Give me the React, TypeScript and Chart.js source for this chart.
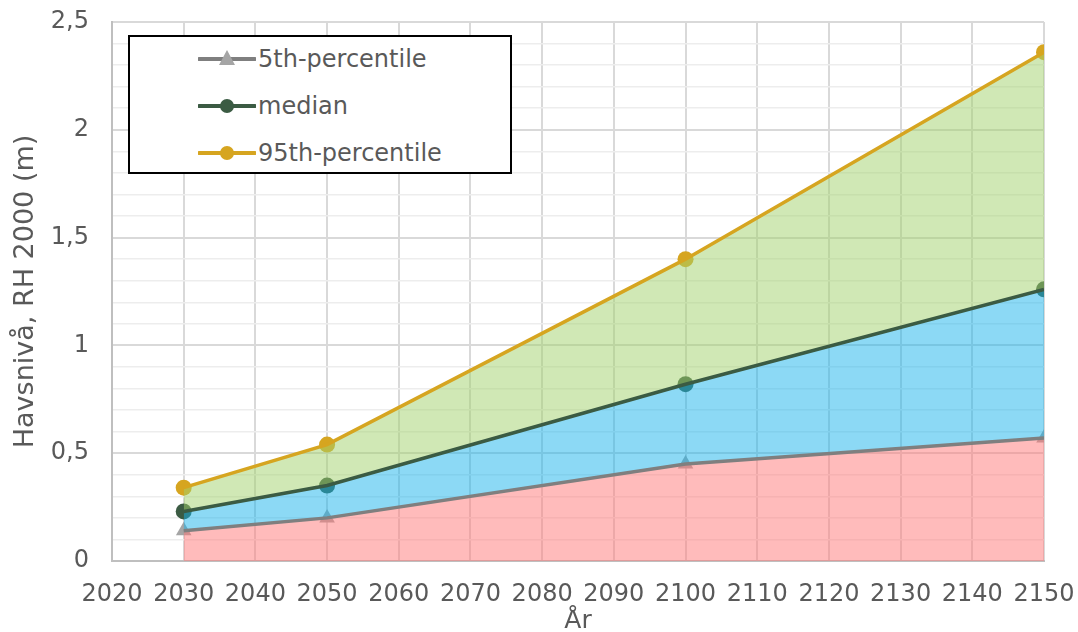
import React, { useEffect, useRef } from "react";
import { Chart, registerables } from "chart.js";

Chart.register(...registerables);

const years = [2030, 2050, 2100, 2150];
const p5 = [0.14, 0.2, 0.45, 0.57];
const median = [0.23, 0.35, 0.82, 1.26];
const p95 = [0.34, 0.54, 1.4, 2.36];
const seriesNames = ["5th-percentile", "median", "95th-percentile"];
const xTitle = "År";
const yTitle = "Havsnivå, RH 2000 (m)";

const FONT = "'DejaVu Sans', Verdana, sans-serif";
const TEXT = "#595959";
const C5 = "#7F7F7F";
const C5M = "#A5A5A5";
const CMED = "#3B5B43";
const C95 = "#D6A520";

const pts = (vals: number[]) => years.map((x, i) => ({ x, y: vals[i] }));

export default function App() {
  const ref = useRef<HTMLCanvasElement | null>(null);
  useEffect(() => {
    if (!ref.current) return;
    const area = (vals: number[], color: string, fill: any) => ({
      data: pts(vals),
      backgroundColor: color,
      borderWidth: 0,
      pointRadius: 0,
      fill,
      order: 2,
      tension: 0,
    });
    const markers = (vals: number[], color: string, style: any, r: number) => ({
      data: pts(vals),
      showLine: false,
      pointStyle: style,
      pointRadius: r,
      pointBackgroundColor: color,
      pointBorderColor: color,
      pointBorderWidth: 0,
      fill: false,
      order: 3,
    });
    const line = (vals: number[], color: string) => ({
      data: pts(vals),
      borderColor: color,
      borderWidth: 3.5,
      pointRadius: 0,
      fill: false,
      order: 1,
      tension: 0,
    });
    const chart = new Chart(ref.current, {
      type: "line",
      data: {
        datasets: [
          area(p5, "rgba(255,119,119,0.5)", "origin"),
          area(median, "rgba(25,179,235,0.5)", "-1"),
          area(p95, "rgba(161,209,107,0.5)", "-1"),
          markers(p5, C5M, "triangle", 9),
          markers(median, CMED, "circle", 8),
          markers(p95, C95, "circle", 8),
          line(p5, C5),
          line(median, CMED),
          line(p95, C95),
        ] as any,
      },
      options: {
        animation: false,
        responsive: false,
        maintainAspectRatio: false,
        layout: { padding: { left: 0, top: 22, right: 34, bottom: 0 } },
        plugins: { legend: { display: false }, tooltip: { enabled: false } },
        scales: {
          x: {
            type: "linear",
            min: 2020,
            max: 2150,
            afterFit: (s: any) => {
              s.height = 71;
              s.paddingLeft = 0;
              s.paddingRight = 0;
              s.paddingTop = 0;
              s.paddingBottom = 0;
            },
            ticks: {
              stepSize: 10,
              autoSkip: false,
              maxRotation: 0,
              padding: 19,
              color: TEXT,
              font: { family: FONT, size: 24 },
              callback: (v: any) => String(v),
            },
            grid: { color: "#D9D9D9", lineWidth: 2, drawTicks: false },
            border: { color: "#BFBFBF", width: 2 },
            title: {
              display: true,
              text: xTitle,
              color: TEXT,
              font: { family: FONT, size: 25 },
              padding: { top: 0, bottom: -4 },
            },
          },
          y: {
            type: "linear",
            min: 0,
            max: 2.5,
            afterFit: (s: any) => {
              s.width = 112;
              s.paddingLeft = 0;
              s.paddingRight = 0;
              s.paddingTop = 0;
              s.paddingBottom = 0;
            },
            ticks: {
              stepSize: 0.1,
              autoSkip: false,
              padding: 23,
              color: TEXT,
              font: { family: FONT, size: 24 },
              callback: (v: any) => {
                const t = Math.round(Number(v) * 10);
                if (t % 5 !== 0) return "";
                return String(t / 10).replace(".", ",");
              },
            },
            grid: {
              drawTicks: false,
              color: (c: any) =>
                Math.round((c.tick?.value ?? 0) * 10) % 5 === 0 ? "#D9D9D9" : "#EDEDED",
              lineWidth: (c: any) =>
                Math.round((c.tick?.value ?? 0) * 10) % 5 === 0 ? 2 : 1.5,
            },
            border: { color: "#BFBFBF", width: 2 },
            title: {
              display: true,
              text: yTitle,
              color: TEXT,
              font: { family: FONT, size: 27 },
              padding: { top: 10, bottom: 0 },
            },
          },
        },
      } as any,
    });
    return () => chart.destroy();
  }, []);

  const legendColors = [
    { line: C5, marker: C5M, tri: true },
    { line: CMED, marker: CMED, tri: false },
    { line: C95, marker: C95, tri: false },
  ];

  return (
    <div style={{ position: "fixed", left: 0, top: 0, width: 1078, height: 632, background: "#fff" }}>
      <canvas ref={ref} width={1078} height={632} style={{ display: "block", width: 1078, height: 632 }} />
      <div
        style={{
          position: "absolute",
          left: 128,
          top: 35,
          width: 384,
          height: 139,
          boxSizing: "border-box",
          border: "2px solid #000",
          background: "#fff",
        }}
      >
        {seriesNames.map((name, i) => (
          <div key={name} style={{ position: "absolute", left: 0, top: 22 + i * 47 - 15, height: 30, width: 380 }}>
            <svg width={58} height={30} style={{ position: "absolute", left: 68, top: 0 }}>
              <line x1={1} y1={15} x2={57} y2={15} stroke={legendColors[i].line} strokeWidth={4} strokeLinecap="round" />
              {legendColors[i].tri ? (
                <polygon points="29,6 37,21 21,21" fill={legendColors[i].marker} />
              ) : (
                <circle cx={29} cy={15} r={7} fill={legendColors[i].marker} />
              )}
            </svg>
            <span
              style={{
                position: "absolute",
                left: 128,
                top: 0,
                lineHeight: "30px",
                fontFamily: FONT,
                fontSize: 24,
                color: TEXT,
                whiteSpace: "nowrap",
              }}
            >
              {name}
            </span>
          </div>
        ))}
      </div>
    </div>
  );
}
